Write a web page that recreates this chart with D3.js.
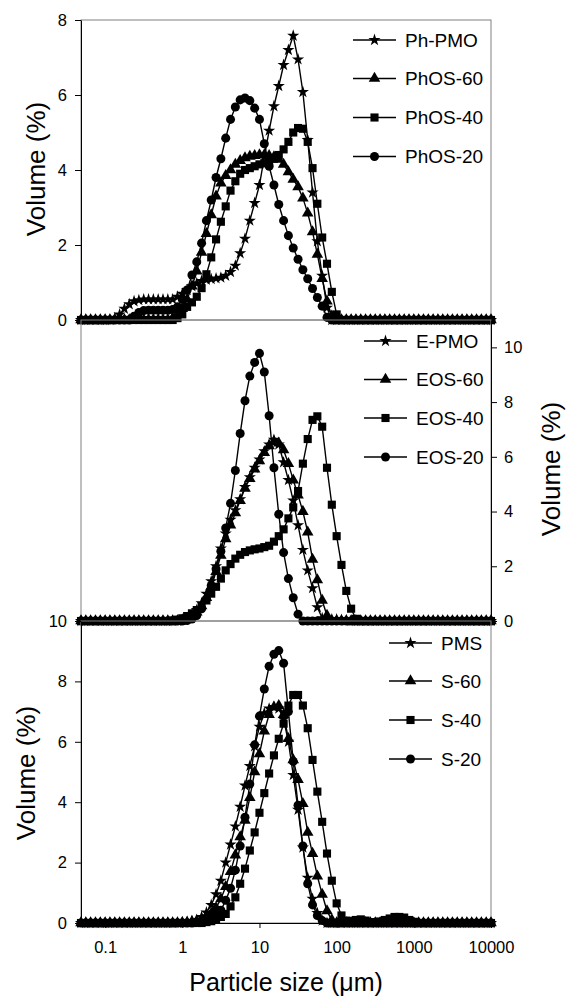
<!DOCTYPE html>
<html>
<head>
<meta charset="utf-8">
<script src="https://cdn.jsdelivr.net/npm/d3@7"></script>
<style>
  body { margin: 0; background: #fff; }
  text { font-family: "Liberation Sans", Arial, sans-serif; fill: #000; }
</style>
</head>
<body>
<div id="chart"></div>
<script>
// particle size classes (um), shared by all series
const sizes = [
  0.0487, 0.0562, 0.0649, 0.0750, 0.0866, 0.1, 0.1155, 0.1334, 0.1540, 0.1778,
  0.2054, 0.2371, 0.2738, 0.3162, 0.3652, 0.4217, 0.4870, 0.5623, 0.6494, 0.7499,
  0.8660, 1, 1.155, 1.334, 1.540, 1.778, 2.054, 2.371, 2.738, 3.162,
  3.652, 4.217, 4.870, 5.623, 6.494, 7.499, 8.660, 10, 11.55, 13.34,
  15.40, 17.78, 20.54, 23.71, 27.38, 31.62, 36.52, 42.17, 48.70, 56.23,
  64.94, 74.99, 86.60, 100, 115.5, 133.4, 154.0, 177.8, 205.4, 237.1,
  273.8, 316.2, 365.2, 421.7, 487.0, 562.3, 649.4, 749.9, 866.0, 1000,
  1155, 1334, 1540, 1778, 2054, 2371, 2738, 3162, 3652, 4217,
  4870, 5623, 6494, 7499, 8660, 10000
];

// top panel (volume %)
const phPMO = [
  0, 0, 0, 0, 0, 0, 0, 0.05, 0.15, 0.3,
  0.42, 0.5, 0.53, 0.55, 0.55, 0.55, 0.55, 0.55, 0.55, 0.55,
  0.62, 0.7, 0.8, 0.9, 0.98, 1.04, 1.07, 1.09, 1.11, 1.13,
  1.18, 1.28, 1.45, 1.78, 2.17, 2.65, 3.12, 3.6, 4.35, 5.05,
  5.7, 6.24, 6.8, 7.2, 7.58, 6.95, 6.08, 4.8, 3.4, 2.1,
  1.18, 0.33, 0, 0, 0, 0, 0, 0, 0, 0,
  0, 0, 0, 0, 0, 0, 0, 0, 0, 0,
  0, 0, 0, 0, 0, 0, 0, 0, 0, 0,
  0, 0, 0, 0, 0, 0
];
const phOS60 = [
  0, 0, 0, 0, 0, 0, 0, 0, 0, 0,
  0, 0, 0, 0, 0, 0, 0, 0, 0, 0.05,
  0.15, 0.3, 0.55, 0.9, 1.3, 1.8, 2.3, 2.8, 3.3, 3.65,
  3.85, 4.0, 4.15, 4.25, 4.32, 4.36, 4.38, 4.4, 4.4, 4.38,
  4.35, 4.28, 4.15, 3.95, 3.75, 3.55, 3.25, 2.85, 2.35, 1.75,
  1.1, 0.5, 0.1, 0, 0, 0, 0, 0, 0, 0,
  0, 0, 0, 0, 0, 0, 0, 0, 0, 0,
  0, 0, 0, 0, 0, 0, 0, 0, 0, 0,
  0, 0, 0, 0, 0, 0
];
const phOS40 = [
  0, 0, 0, 0, 0, 0, 0, 0, 0, 0,
  0, 0, 0, 0, 0, 0, 0, 0, 0, 0,
  0.05, 0.15, 0.35, 0.47, 0.62, 0.85, 1.22, 1.67, 2.15, 2.62,
  3.03, 3.45, 3.7, 3.9, 4.0, 4.05, 4.1, 4.15, 4.18, 4.22,
  4.3, 4.4, 4.55, 4.75, 5.0, 5.12, 5.1, 4.75, 4.05, 3.1,
  2.2, 1.5, 0.75, 0.15, 0, 0, 0, 0, 0, 0,
  0, 0, 0, 0, 0, 0, 0, 0, 0, 0,
  0, 0, 0, 0, 0, 0, 0, 0, 0, 0,
  0, 0, 0, 0, 0, 0
];
const phOS20 = [
  0, 0, 0, 0, 0, 0, 0, 0, 0, 0,
  0, 0.1, 0.2, 0.25, 0.26, 0.26, 0.26, 0.26, 0.26, 0.28,
  0.35, 0.55, 0.8, 1.2, 1.55, 2.05, 2.65, 3.2, 3.8, 4.3,
  4.85, 5.35, 5.68, 5.87, 5.92, 5.85, 5.65, 5.35, 4.7, 4.1,
  3.6, 3.08, 2.65, 2.25, 1.92, 1.62, 1.34, 1.1, 0.84, 0.6,
  0.37, 0.07, 0, 0, 0, 0, 0, 0, 0, 0,
  0, 0, 0, 0, 0, 0, 0, 0, 0, 0,
  0, 0, 0, 0, 0, 0, 0, 0, 0, 0,
  0, 0, 0, 0, 0, 0
];

// middle panel
const ePMO = [
  0, 0, 0, 0, 0, 0, 0, 0, 0, 0,
  0, 0, 0, 0, 0, 0, 0, 0, 0, 0,
  0.01, 0.04, 0.1, 0.22, 0.4, 0.65, 1.0, 1.45, 2.0, 2.65,
  3.2, 3.7, 4.05, 4.45, 4.9, 5.25, 5.6, 5.9, 6.2, 6.45,
  6.62, 6.45, 5.8, 5.15, 4.4, 3.5, 2.6, 1.85, 1.2, 0.5,
  0.1, 0.05, 0.06, 0.06, 0.04, 0.02, 0, 0, 0, 0,
  0, 0, 0, 0, 0, 0, 0, 0, 0, 0,
  0, 0, 0, 0, 0, 0, 0, 0, 0, 0,
  0, 0, 0, 0, 0, 0
];
const eOS60 = [
  0, 0, 0, 0, 0, 0, 0, 0, 0, 0,
  0, 0, 0, 0, 0, 0, 0, 0, 0, 0,
  0, 0.03, 0.08, 0.17, 0.32, 0.55, 0.85, 1.25, 1.8, 2.4,
  3.0, 3.5, 3.95, 4.4, 4.85, 5.2, 5.55, 5.85, 6.15, 6.4,
  6.55, 6.5, 6.25, 5.75, 5.15, 4.6, 4.0, 3.25, 2.25, 1.5,
  0.75, 0.2, 0, 0, 0, 0, 0, 0, 0, 0,
  0, 0, 0, 0, 0, 0, 0, 0, 0, 0,
  0, 0, 0, 0, 0, 0, 0, 0, 0, 0,
  0, 0, 0, 0, 0, 0
];
const eOS40 = [
  0, 0, 0, 0, 0, 0, 0, 0, 0, 0,
  0, 0, 0, 0, 0, 0, 0, 0, 0, 0.02,
  0.05, 0.1, 0.18, 0.28, 0.4, 0.55, 0.75, 1.0, 1.25, 1.55,
  1.85, 2.08, 2.28, 2.42, 2.52, 2.58, 2.62, 2.65, 2.7, 2.75,
  2.9, 3.1, 3.35, 3.75, 4.15, 4.75, 5.75, 6.65, 7.35, 7.48,
  7.1, 5.6, 4.25, 3.1, 2.05, 1.1, 0.45, 0.08, 0, 0,
  0, 0, 0, 0, 0, 0, 0, 0, 0, 0,
  0, 0, 0, 0, 0, 0, 0, 0, 0, 0,
  0, 0, 0, 0, 0, 0
];
const eOS20 = [
  0, 0, 0, 0, 0, 0, 0, 0, 0, 0,
  0, 0, 0, 0, 0, 0, 0, 0, 0, 0,
  0, 0, 0.02, 0.07, 0.2, 0.45, 0.8, 1.3, 1.9, 2.55,
  3.4, 4.3, 5.5, 6.85, 8.05, 8.95, 9.45, 9.78, 9.1, 7.5,
  5.6, 3.9, 2.5, 1.55, 0.85, 0.25, 0, 0, 0, 0,
  0, 0, 0, 0, 0, 0, 0, 0, 0, 0,
  0, 0, 0, 0, 0, 0, 0, 0, 0, 0,
  0, 0, 0, 0, 0, 0, 0, 0, 0, 0,
  0, 0, 0, 0, 0, 0
];

// bottom panel
const pms = [
  0, 0, 0, 0, 0, 0, 0, 0, 0, 0,
  0, 0, 0, 0, 0, 0, 0, 0, 0, 0,
  0.01, 0.02, 0.04, 0.06, 0.1, 0.2, 0.35, 0.6, 0.95, 1.4,
  2.0, 2.6, 3.2, 3.85, 4.55, 5.2, 5.85, 6.5, 6.95, 7.1,
  7.15, 7.1, 6.75, 6.0, 4.9, 3.75, 2.5, 1.5, 0.8, 0.33,
  0.08, 0, 0, 0, 0, 0, 0, 0, 0, 0,
  0, 0, 0, 0, 0, 0, 0, 0, 0, 0,
  0, 0, 0, 0, 0, 0, 0, 0, 0, 0,
  0, 0, 0, 0, 0, 0
];
const s60 = [
  0, 0, 0, 0, 0, 0, 0, 0, 0, 0,
  0, 0, 0, 0, 0, 0, 0, 0, 0, 0,
  0, 0.01, 0.02, 0.04, 0.07, 0.12, 0.2, 0.32, 0.5, 0.8,
  1.2, 1.7, 2.25, 2.85, 3.4, 4.15, 5.0, 5.6, 6.35, 6.9,
  7.15, 7.2, 6.9, 6.1, 5.4, 4.75, 3.95, 3.0, 2.3, 1.55,
  0.95, 0.4, 0.1, 0, 0, 0, 0, 0, 0, 0,
  0, 0, 0, 0, 0, 0, 0, 0, 0, 0,
  0, 0, 0, 0, 0, 0, 0, 0, 0, 0,
  0, 0, 0, 0, 0, 0
];
const s40 = [
  0, 0, 0, 0, 0, 0, 0, 0, 0, 0,
  0, 0, 0, 0, 0, 0, 0, 0, 0, 0,
  0, 0, 0, 0, 0, 0, 0.03, 0.06, 0.12, 0.2,
  0.3, 0.55, 0.85, 1.3, 1.8, 2.4, 3.0, 3.65, 4.3, 4.95,
  5.55, 6.1, 6.6, 7.2, 7.55, 7.55, 7.2, 6.45, 5.4, 4.35,
  3.35, 2.3, 1.4, 0.65, 0.25, 0.08, 0.06, 0.1, 0.12, 0.08,
  0.03, 0.02, 0.05, 0.1, 0.15, 0.2, 0.2, 0.18, 0.1, 0.04,
  0, 0, 0, 0, 0, 0, 0, 0, 0, 0,
  0, 0, 0, 0, 0, 0
];
const s20 = [
  0, 0, 0, 0, 0, 0, 0, 0, 0, 0,
  0, 0, 0, 0, 0, 0, 0, 0, 0, 0,
  0, 0, 0, 0, 0.02, 0.05, 0.1, 0.18, 0.28, 0.42,
  0.75, 1.15, 1.75, 2.55, 3.5, 4.6, 5.9, 6.85, 7.75, 8.5,
  8.9, 9.02, 8.6, 7.0, 5.35, 3.9, 2.55, 1.3, 0.6, 0.25,
  0.08, 0, 0, 0, 0, 0, 0, 0, 0, 0,
  0, 0, 0, 0, 0, 0, 0, 0, 0, 0,
  0, 0, 0, 0, 0, 0, 0, 0, 0, 0,
  0, 0, 0, 0, 0, 0
];

const xTicks = [0.1, 1, 10, 100, 1000, 10000];
const yTicksTop = [0, 2, 4, 6, 8];
const yTicksMid = [0, 2, 4, 6, 8, 10];
const yTicksBot = [0, 2, 4, 6, 8, 10];

const namesTop = ["Ph-PMO", "PhOS-60", "PhOS-40", "PhOS-20"];
const namesMid = ["E-PMO", "EOS-60", "EOS-40", "EOS-20"];
const namesBot = ["PMS", "S-60", "S-40", "S-20"];

const width = 569, height = 1000;
const left = 81, right = 491;

const symbols = [d3.symbolStar, d3.symbolTriangle, d3.symbolSquare, d3.symbolCircle];
const symSizes = [46, 58, 66, 64];

const panels = [
  {top: 20, bottom: 320, max: 8, ticks: yTicksTop, side: "left",
   series: [phPMO, phOS60, phOS40, phOS20], names: namesTop,
   legX: 353, legY: [40, 78.5, 117.5, 156.5]},
  {top: 320, bottom: 621, max: 11, ticks: yTicksMid, side: "right",
   series: [ePMO, eOS60, eOS40, eOS20], names: namesMid,
   legX: 364, legY: [341, 379.5, 418, 457]},
  {top: 621, bottom: 923, max: 10, ticks: yTicksBot, side: "left",
   series: [pms, s60, s40, s20], names: namesBot,
   legX: 389, legY: [643, 681, 720, 759]}
];

const svg = d3.select("#chart")
  .append("svg")
    .attr("width", width)
    .attr("height", height);

const x = d3.scaleLog()
  .domain([sizes[0], sizes[sizes.length - 1]])
  .range([left, right]);

const marker = (type, size) => d3.symbol().type(type).size(size);

panels.forEach(p => {
  const y = d3.scaleLinear()
    .domain([0, p.max])
    .range([p.bottom, p.top]);

  // panel frame
  svg.append("rect")
    .attr("x", left)
    .attr("y", p.top)
    .attr("width", right - left)
    .attr("height", p.bottom - p.top)
    .attr("fill", "none")
    .attr("stroke", "#808080");

  // value axis
  const axis = (p.side === "left" ? d3.axisLeft(y) : d3.axisRight(y))
    .tickValues(p.ticks)
    .tickSize(6)
    .tickPadding(p.side === "left" ? 8 : 7)
    .tickSizeOuter(0);
  svg.append("g")
    .attr("transform", `translate(${p.side === "left" ? left : right},0)`)
    .call(axis)
    .attr("font-size", 16.5);

  // curves and markers
  const line = d3.line()
    .x(d => x(d.s))
    .y(d => y(d.v));
  p.series.forEach((vals, i) => {
    const pts = sizes.map((s, k) => ({s: s, v: vals[k]}));
    svg.append("path")
      .datum(pts)
      .attr("fill", "none")
      .attr("stroke", "#000")
      .attr("stroke-width", 1.4)
      .attr("d", line);
    svg.append("g")
      .selectAll("path")
      .data(pts)
      .enter()
      .append("path")
        .attr("transform", d => `translate(${x(d.s)},${y(d.v)})`)
        .attr("d", marker(symbols[i], symSizes[i]))
        .attr("fill", "#000");
  });

  // legend
  p.names.forEach((name, i) => {
    const g = svg.append("g")
      .attr("transform", `translate(${p.legX},${p.legY[i]})`);
    g.append("line")
      .attr("x1", 0).attr("x2", 43)
      .attr("y1", 0).attr("y2", 0)
      .attr("stroke", "#000")
      .attr("stroke-width", 1.4);
    g.append("path")
      .attr("transform", "translate(21.5,0)")
      .attr("d", marker(symbols[i], symSizes[i]))
      .attr("fill", "#000");
    g.append("text")
      .attr("x", 52)
      .attr("dy", "0.35em")
      .style("font-size", "19px")
      .text(name);
  });
});

// size axis
svg.append("g")
  .attr("transform", `translate(0,${panels[2].bottom})`)
  .call(d3.axisBottom(x)
    .tickValues(xTicks)
    .tickFormat(d => String(d))
    .tickSize(5)
    .tickPadding(13)
    .tickSizeOuter(0))
  .attr("font-size", 16.5);

// axis titles
const title = (tx, ty, rot, txt, fs) => svg.append("text")
  .attr("transform", `translate(${tx},${ty})` + (rot ? "rotate(-90)" : ""))
  .attr("text-anchor", "middle")
  .attr("dy", rot ? "0.35em" : null)
  .style("font-size", fs + "px")
  .text(txt);
title(36, 169, true, "Volume (%)", 26);
title(26, 773, true, "Volume (%)", 26);
title(551, 469, true, "Volume (%)", 26);
title((left + right) / 2, 991, false, "Particle size (\u03bcm)", 25);
</script>
</body>
</html>
